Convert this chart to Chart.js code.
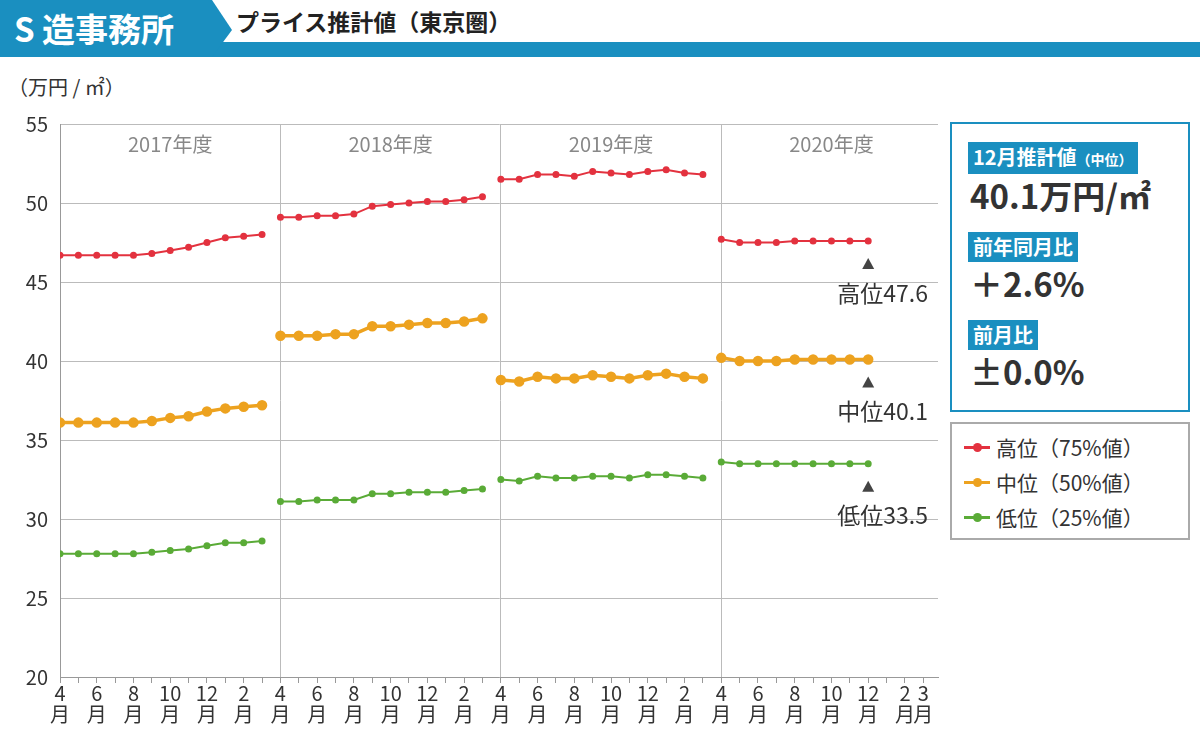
<!DOCTYPE html>
<html lang="ja">
<head>
<meta charset="UTF-8">
<script src="https://cdn.jsdelivr.net/npm/chart.js"></script>
<style>
  body { margin:0; width:1200px; height:732px; background:#fff; font-family:"Noto Sans CJK JP","Noto Sans",sans-serif; position:relative; overflow:hidden; color:#333; }
  .bar { position:absolute; left:0; top:42px; width:1200px; height:15px; background:#1a8fc0; }
  .logo { position:absolute; left:0; top:0; width:232px; height:57px; background:#1a8fc0; clip-path:polygon(0 0,212px 0,232px 30px,212px 57px,0 57px); color:#fff; font-weight:bold; font-size:33px; line-height:57px; padding-left:14px; box-sizing:border-box; }
  .title { position:absolute; left:236px; top:4px; font-size:23px; font-weight:bold; color:#222; }
  .unit { position:absolute; left:8px; top:72px; font-size:20px; color:#333; }
  #wrap { position:absolute; left:0; top:60px; width:945px; height:672px; }
  .panel { position:absolute; left:950px; top:122px; width:240px; height:290px; border:2px solid #1a8fc0; box-sizing:border-box; padding:18px 0 0 16px; }
  .tag { display:inline-block; background:#1a8fc0; color:#fff; font-weight:bold; font-size:20px; padding:0 5px; line-height:30px; }
  .tag small { font-size:14px; }
  .big { font-size:33px; font-weight:bold; color:#333; margin:0 0 16px 2px; line-height:42px; }
  .legend { position:absolute; left:950px; top:422px; width:240px; height:118px; border:2px solid #aaa; box-sizing:border-box; padding:6px 0 0 12px; font-size:21px; }
  .legend div { line-height:35px; display:flex; align-items:center; }
  .legend i { display:inline-block; width:26px; height:3px; position:relative; margin-right:6px; }
  .legend i::after { content:""; position:absolute; left:9px; top:-3px; width:9px; height:9px; border-radius:50%; background:inherit; }
</style>
</head>
<body>
<div class="bar"></div>
<div class="logo">S 造事務所</div>
<div class="title">プライス推計値（東京圏）</div>
<div class="unit">（万円 / ㎡）</div>
<div id="wrap"><canvas id="c"></canvas></div>
<div class="panel">
  <span class="tag">12月推計値<small>（中位）</small></span>
  <div class="big">40.1万円/㎡</div>
  <span class="tag">前年同月比</span>
  <div class="big">＋2.6%</div>
  <span class="tag">前月比</span>
  <div class="big">±0.0%</div>
</div>
<div class="legend">
  <div><i style="background:#e3323f"></i>高位（75%値）</div>
  <div><i style="background:#eda21f"></i>中位（50%値）</div>
  <div><i style="background:#5aab37"></i>低位（25%値）</div>
</div>
<script>
const years = ['2017年度', '2018年度', '2019年度', '2020年度'];
const months = ['4','5','6','7','8','9','10','11','12','1','2','3'];
const labeledMonths = ['4','6','8','10','12','2'];

const high2017 = [46.7,46.7,46.7,46.7,46.7,46.8,47.0,47.2,47.5,47.8,47.9,48.0];
const high2018 = [49.1,49.1,49.2,49.2,49.3,49.8,49.9,50.0,50.1,50.1,50.2,50.4];
const high2019 = [51.5,51.5,51.8,51.8,51.7,52.0,51.9,51.8,52.0,52.1,51.9,51.8];
const high2020 = [47.7,47.5,47.5,47.5,47.6,47.6,47.6,47.6,47.6];
const mid2017 = [36.1,36.1,36.1,36.1,36.1,36.2,36.4,36.5,36.8,37.0,37.1,37.2];
const mid2018 = [41.6,41.6,41.6,41.7,41.7,42.2,42.2,42.3,42.4,42.4,42.5,42.7];
const mid2019 = [38.8,38.7,39.0,38.9,38.9,39.1,39.0,38.9,39.1,39.2,39.0,38.9];
const mid2020 = [40.2,40.0,40.0,40.0,40.1,40.1,40.1,40.1,40.1];
const low2017 = [27.8,27.8,27.8,27.8,27.8,27.9,28.0,28.1,28.3,28.5,28.5,28.6];
const low2018 = [31.1,31.1,31.2,31.2,31.2,31.6,31.6,31.7,31.7,31.7,31.8,31.9];
const low2019 = [32.5,32.4,32.7,32.6,32.6,32.7,32.7,32.6,32.8,32.8,32.7,32.6];
const low2020 = [33.6,33.5,33.5,33.5,33.5,33.5,33.5,33.5,33.5];

const series = [
  { name:'高位', color:'#e3323f', r:2.5, w:2, years:[high2017,high2018,high2019,high2020] },
  { name:'中位', color:'#eda21f', r:3.5, w:3.5, years:[mid2017,mid2018,mid2019,mid2020] },
  { name:'低位', color:'#5aab37', r:2.5, w:2, years:[low2017,low2018,low2019,low2020] },
];

// one dataset per series per year so the years stay unconnected
const datasets = [];
series.forEach(s => s.years.forEach((arr, y) => {
  datasets.push({
    data: arr.map((v, i) => ({ x: y * 12 + i, y: v })),
    borderColor: s.color, backgroundColor: s.color,
    borderWidth: s.w, pointRadius: s.r, pointHoverRadius: s.r, tension: 0
  });
}));

const decor = {
  id: 'decor',
  afterDraw(chart) {
    const ctx = chart.ctx, xs = chart.scales.x, ys = chart.scales.y;
    ctx.save();
    ctx.font = '20px "Noto Sans CJK JP"';
    ctx.fillStyle = '#888';
    ctx.textAlign = 'center';
    ctx.textBaseline = 'middle';
    years.forEach((y, i) => ctx.fillText(y, (xs.getPixelForValue(i * 12) + xs.getPixelForValue(i * 12 + 12)) / 2, ys.top + 20));
    // latest value notes
    const last = high2020.length - 1 + 36;
    const tx = xs.getPixelForValue(last);
    series.forEach(s => {
      const arr = s.years[3], v = arr[arr.length - 1];
      const py = ys.getPixelForValue(v);
      ctx.fillStyle = '#444';
      ctx.beginPath();
      ctx.moveTo(tx, py + 17); ctx.lineTo(tx - 6, py + 28); ctx.lineTo(tx + 6, py + 28); ctx.fill();
      ctx.textAlign = 'right';
      ctx.font = '23px "Noto Sans CJK JP"';
      ctx.fillStyle = '#333';
      ctx.fillText(s.name + v.toFixed(1), 928, py + 52);
    });
    ctx.restore();
  }
};

new Chart(document.getElementById('c'), {
  type: 'line',
  data: { datasets },
  options: {
    responsive: true, maintainAspectRatio: false, animation: false,
    layout: { padding: { top: 64, right: 5, left: 0, bottom: 0 } },
    plugins: { legend: { display: false }, tooltip: { enabled: false } },
    scales: {
      x: {
        type: 'linear', min: 0, max: 47.8,
        afterFit: s => { s.height = 55; },
        afterBuildTicks: s => { s.ticks = Array.from({ length: 48 }, (_, i) => ({ value: i })); },
        ticks: {
          autoSkip: false, maxRotation: 0, padding: 0, color: '#333',
          font: { size: 20, family: '"Noto Sans CJK JP"', lineHeight: 1.05 },
          callback: v => {
            const m = months[v % 12];
            return (labeledMonths.includes(m) || v === 47) ? [m, '月'] : '';
          }
        },
        grid: {
          color: c => (c.tick && c.tick.value % 12 === 0) ? '#bbb' : 'rgba(0,0,0,0)',
          tickColor: '#999', tickLength: 6, drawTicks: true
        },
        border: { color: '#999' }
      },
      y: {
        min: 20, max: 55,
        afterFit: s => { s.width = 60; },
        ticks: { stepSize: 5, color: '#333', padding: 12, font: { size: 20, family: '"Noto Sans CJK JP"' } },
        grid: { color: '#bbb', drawTicks: false },
        border: { color: '#999' }
      }
    }
  },
  plugins: [decor]
});
</script>
</body>
</html>
